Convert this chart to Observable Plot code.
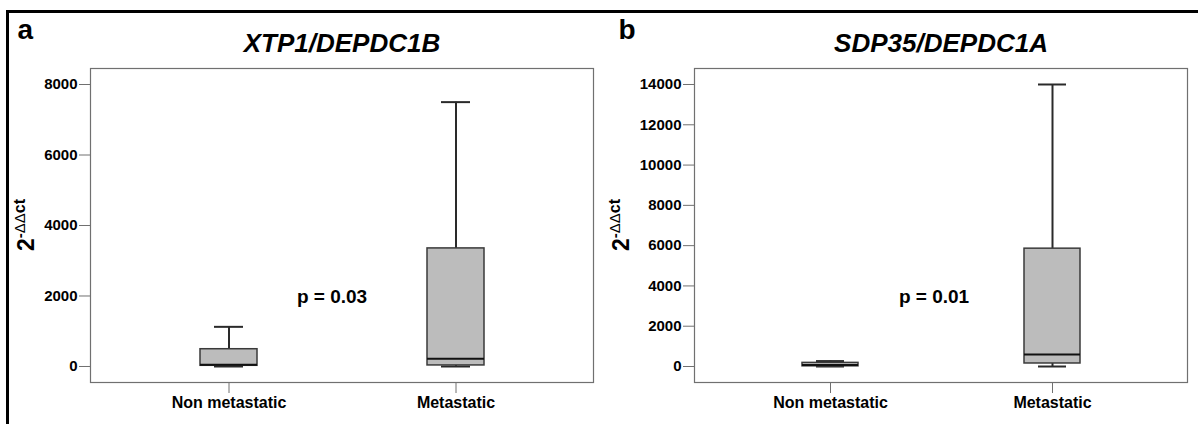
<!DOCTYPE html>
<html><head><meta charset="utf-8">
<script src="https://cdn.jsdelivr.net/npm/d3@7"></script>
<script src="https://cdn.jsdelivr.net/npm/@observablehq/plot@0.6"></script>
<style>
body{margin:0;background:#fff;}
#wrap{position:relative;width:1198px;height:424px;overflow:hidden;background:#fff;}
#wrap svg{position:absolute;top:0;}
#border{position:absolute;left:6px;top:10px;width:1400px;height:600px;border-top:3px solid #000;border-left:3px solid #000;pointer-events:none;}
</style></head><body>
<div id="wrap"><div id="border"></div></div>
<script>
const categories = ["Non metastatic", "Metastatic"];

// Panel a: XTP1/DEPDC1B
const aMin = [0, 0];
const aQ1 = [20, 30];
const aMedian = [50, 220];
const aQ3 = [490, 3350];
const aMax = [1125, 7500];
const aTicks = [0, 2000, 4000, 6000, 8000];

// Panel b: SDP35/DEPDC1A
const bMin = [0, 0];
const bQ1 = [10, 150];
const bMedian = [80, 600];
const bQ3 = [180, 5850];
const bMax = [270, 14000];
const bTicks = [0, 2000, 4000, 6000, 8000, 10000, 12000, 14000];

const font = "'Liberation Sans', Arial, Helvetica, sans-serif";

function rowsOf(mins, q1s, meds, q3s, maxs) {
  return categories.map((c, i) => ({cat: c, min: mins[i], q1: q1s[i], median: meds[i], q3: q3s[i], max: maxs[i]}));
}

function panel({rows, ticks, domain, title, letter, p, mLeft, mRight, letterDx, pDx, ylabX}) {
  const whisk = {stroke: "#2a2a2a", strokeWidth: 2};
  const svg = Plot.plot({
    width: 599, height: 424,
    marginLeft: mLeft, marginRight: mRight, marginTop: 68, marginBottom: 42,
    style: {fontFamily: font, fontSize: "15px", fontWeight: "bold", color: "#000", background: "transparent"},
    x: {type: "band", domain: categories, paddingInner: 0.749, paddingOuter: 0.482, label: null},
    y: {domain, label: null},
    marks: [
      Plot.frame({stroke: "#707070", strokeWidth: 1.2}),
      Plot.ruleX(rows, {x: "cat", y1: "q3", y2: "max", ...whisk}),
      Plot.ruleX(rows, {x: "cat", y1: "min", y2: "q1", ...whisk}),
      Plot.tickY(rows, {x: "cat", y: "max", insetLeft: 14, insetRight: 14, ...whisk}),
      Plot.tickY(rows, {x: "cat", y: "min", insetLeft: 14, insetRight: 14, ...whisk}),
      Plot.barY(rows, {x: "cat", y1: "q1", y2: "q3", fill: "#bcbcbc", stroke: "#3a3a3a", strokeWidth: 1.5}),
      Plot.tickY(rows, {x: "cat", y: "median", stroke: "#111", strokeWidth: 2}),
      Plot.axisY({ticks, tickFormat: "d", tickSize: 11, tickPadding: 2, label: null, stroke: "#707070", fill: "#000", fontSize: 15}),
      Plot.axisX({tickSize: 11, tickPadding: 3, label: null, stroke: "#707070", fill: "#000", fontSize: 16}),
      Plot.text([title], {text: d => d, frameAnchor: "top", dy: -25, fontSize: 26, fontStyle: "italic", fontWeight: "bold", lineAnchor: "middle"}),
      Plot.text([letter], {text: d => d, frameAnchor: "top-left", dx: letterDx, dy: -30, textAnchor: "start", lineAnchor: "bottom", fontSize: 28, fontWeight: "bold"}),
      Plot.text([p], {text: d => d, frameAnchor: "middle", dx: pDx, dy: 71, fontSize: 19, fontWeight: "bold"})
    ]
  });
  // y-axis label 2^-ΔΔct with superscript
  const cy = 68 + (424 - 68 - 42) / 2;
  const t = d3.select(svg).append("text")
    .attr("transform", `translate(${ylabX},${cy}) rotate(-90)`)
    .attr("text-anchor", "middle")
    .attr("font-family", font)
    .attr("font-weight", "bold")
    .attr("fill", "#000");
  t.append("tspan").attr("font-size", 23).text("2");
  t.append("tspan").attr("font-size", 15).attr("dy", -9).text("-");
  t.append("tspan").attr("font-size", 15).attr("font-weight", "normal").text("ΔΔ");
  t.append("tspan").attr("font-size", 16).text("ct");
  return svg;
}

const wrap = document.getElementById("wrap");
const border = document.getElementById("border");

const svgA = panel({
  rows: rowsOf(aMin, aQ1, aMedian, aQ3, aMax), ticks: aTicks, domain: [-454, 8454],
  title: "XTP1/DEPDC1B", letter: "a", p: "p = 0.03",
  mLeft: 90, mRight: 6, letterDx: -73, pDx: -10, ylabX: 34
});
svgA.style.left = "0px";
wrap.insertBefore(svgA, border);

const svgB = panel({
  rows: rowsOf(bMin, bQ1, bMedian, bQ3, bMax), ticks: bTicks, domain: [-794, 14794],
  title: "SDP35/DEPDC1A", letter: "b", p: "p = 0.01",
  mLeft: 95, mRight: 11, letterDx: -76, pDx: -7, ylabX: 30
});
svgB.style.left = "599px";
wrap.insertBefore(svgB, border);
</script>
</body></html>
